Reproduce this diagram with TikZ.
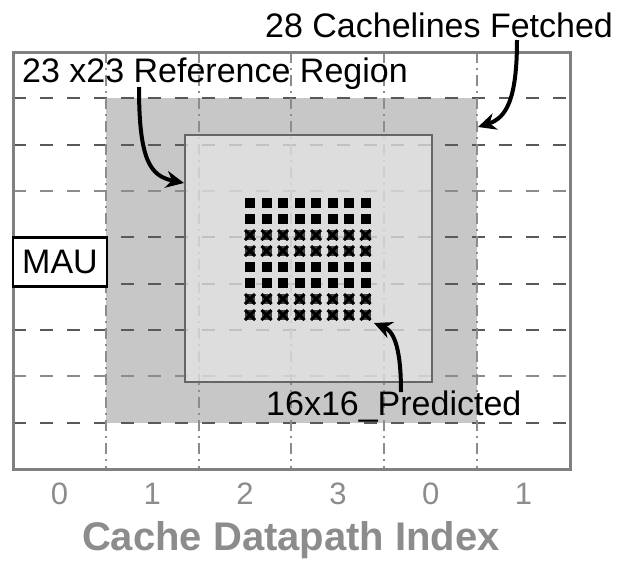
\documentclass[tikz,border=0pt]{standalone}
\usepackage{fontspec}
\setmainfont{Liberation Sans}
\usetikzlibrary{arrows.meta}

\begin{document}
\begin{tikzpicture}[x=1pt, y=-1pt,
  lbl/.style={font=\fontsize{34}{34}\selectfont, inner sep=0pt},
  tick/.style={font=\fontsize{31}{31}\selectfont, text=black!45, inner sep=0pt},
  arrow/.style={-{Stealth[length=18pt,width=17pt]}, line width=4pt},
  hgrid/.style={line width=2.5pt, dash pattern=on 13pt off 14pt},
  vgrid/.style={black!45, line width=2.8pt, dash pattern=on 11pt off 5pt on 2pt off 5pt}
]
\useasboundingbox (0,0) rectangle (618,560);
\fill[black!22] (106,98) rectangle (477,423);
\foreach \y/\c in {98/65,145/65,191/45,237/65,284/65,330/65,376/45,423/65}
  \draw[hgrid, black!\c] (13,\y) -- (570,\y);
\foreach \x in {106,199,291,384,477}
  \draw[vgrid] (\x,52) -- (\x,469);
\draw[black!60, line width=2pt, fill=black!10, fill opacity=0.75] (185,135) rectangle (432,382);
\draw[black!50, line width=3pt] (13,52) rectangle (570,469);

\foreach \j in {0,1,4,5}
  \foreach \i in {0,...,7}
    \fill (245+16.5*\i,198+16*\j) rectangle ++(10,10);
\foreach \j in {2,3,6,7}
  \foreach \i in {0,...,7} {
    \fill[black!75] (245+16.5*\i,198+16*\j) rectangle ++(10,10);
    \draw[line width=3pt] (245+16.5*\i,198+16*\j) -- ++(10,10) (255+16.5*\i,198+16*\j) -- ++(-10,10);
  }

\node[lbl, draw=black, line width=2.5pt, fill=white, minimum width=94pt, minimum height=49pt] (mau) at (60,262) {MAU};
\node[lbl, anchor=base west] (fetchlbl) at (265,37) {28 Cachelines Fetched};
\node[lbl, anchor=base west] (reflbl) at (22,82) {23 x23 Reference Region};
\node[lbl, anchor=base west] (predlbl) at (266,415) {16x16\_Predicted};

\foreach \t [count=\i from 0] in {0,1,2,3,0,1}
  \node[tick] (tick\i) at (59.5+92.8*\i,494) {\t};
\node[font=\bfseries\fontsize{40}{40}\selectfont, text=black!45, inner sep=0pt] (axis) at (291,540) {Cache Datapath Index};

\coordinate (refstart) at (139,87);
\coordinate (refedge) at (184,183);
\coordinate (fetchstart) at (517,40);
\coordinate (fetchedge) at (478,127);
\coordinate (predstart) at (401,392);
\coordinate (prededge) at (374,323);
\draw[arrow] (refstart) .. controls (139,160) and (150,176) .. (refedge);
\draw[arrow] (fetchstart) .. controls (517,100) and (506,118) .. (fetchedge);
\draw[arrow] (predstart) .. controls (401,345) and (393,331) .. (prededge);
\end{tikzpicture}
\end{document}
